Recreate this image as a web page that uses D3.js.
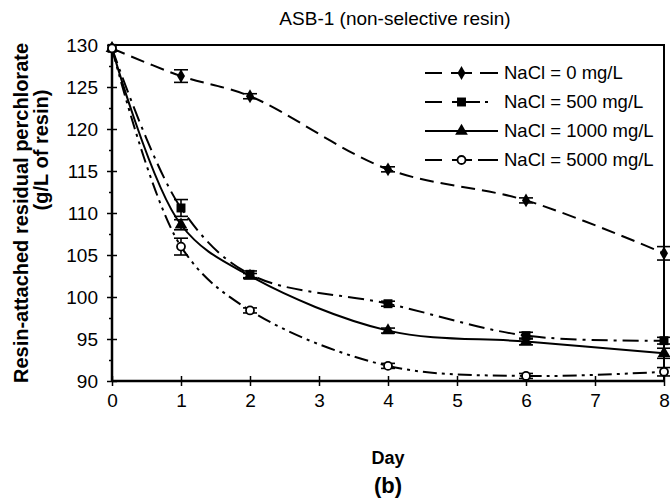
<!DOCTYPE html>
<html>
<head>
<meta charset="utf-8">
<script src="https://cdn.jsdelivr.net/npm/d3@7"></script>
<style>
  body { margin: 0; background: #fff; }
  svg { font-family: "Liberation Sans", Arial, sans-serif; }
  .axis path { display: none; }
  .axis line { stroke: #000; stroke-width: 1.5; }
  .axis text { font-size: 19px; fill: #000; }
</style>
</head>
<body>
<div id="chart"></div>
<script>
// values
const days = [0, 1, 2, 4, 6, 8];
const nacl0    = [129.6, 126.3, 123.9, 115.2, 111.5, 105.2];
const nacl500  = [129.6, 110.6, 102.7, 99.2, 95.4, 94.8];
const nacl1000 = [129.6, 108.6, 102.5, 96.0, 94.7, 93.3];
const nacl5000 = [129.6, 106.0, 98.4, 91.8, 90.6, 91.1];
// error bar half widths
const err0    = [0, 0.75, 0.3, 0.3, 0.3, 0.8];
const err500  = [0, 1.0, 0.4, 0.3, 0.4, 0.4];
const err1000 = [0, 0.6, 0.3, 0.3, 0.4, 0.6];
const err5000 = [0, 1.0, 0.3, 0.3, 0.3, 0.5];
const seriesNames = ['NaCl = 0 mg/L', 'NaCl = 500 mg/L', 'NaCl = 1000 mg/L', 'NaCl = 5000 mg/L'];
const xTicks = [0, 1, 2, 3, 4, 5, 6, 7, 8];
const yTicks = [90, 95, 100, 105, 110, 115, 120, 125, 130];
const yMinorTicks = [92.5, 97.5, 102.5, 107.5, 112.5, 117.5, 122.5, 127.5];

const values = [nacl0, nacl500, nacl1000, nacl5000];
const errors = [err0, err500, err1000, err5000];
const series = seriesNames.map((name, i) => ({
    name: name,
    points: days.map((d, j) => ({day: d, value: values[i][j], err: errors[i][j]}))
}));

// look of each series (legend samples have their own dash layout)
const styles = [
    {dash: '14,7', legendDash: '17,9,21,8,18', marker: 'diamond'},
    {dash: '16,6,3,6', legendDash: '17,10,28,5,3,10', marker: 'square'},
    {dash: null, legendDash: null, marker: 'triangle'},
    {dash: '14,5,3,5,3,5', legendDash: '17,10,20,6,20', marker: 'circle'}
];

const svg_width = 670;
const svg_height = 501;
const margin = {top: 45, right: 6, bottom: 120, left: 112};
const width = svg_width - margin.left - margin.right;
const height = svg_height - margin.top - margin.bottom;

const svg = d3.select('#chart').append('svg')
    .attr('width', svg_width).attr('height', svg_height);
const g = svg.append('g').attr('transform', `translate(${margin.left},${margin.top})`);

const xScale = d3.scaleLinear([0, 8], [0, width]);
const yScale = d3.scaleLinear([90, 130], [height, 0]);

// frame
g.append('rect').attr('x', 0).attr('y', 0).attr('width', width).attr('height', height)
    .attr('fill', 'none').attr('stroke', '#000').attr('stroke-width', 2);

// y axis: major ticks cross the axis, minor ones outside only
const yAxis = d3.axisLeft(yScale).tickValues(yTicks).tickSize(5).tickPadding(9);
const yAxisDraw = g.append('g').attr('class', 'axis').call(yAxis);
yAxisDraw.selectAll('.tick').append('line').attr('x2', 5);
g.append('g').attr('class', 'axis')
    .call(d3.axisLeft(yScale).tickValues(yMinorTicks).tickSize(3).tickFormat(''));

// x axis
const xAxis = d3.axisBottom(xScale).tickValues(xTicks).tickSize(5).tickPadding(8);
const xAxisDraw = g.append('g').attr('class', 'axis')
    .attr('transform', `translate(0,${height})`).call(xAxis);
xAxisDraw.selectAll('.tick').append('line').attr('y2', -5);
g.append('line').attr('x1', 0).attr('x2', width).attr('y1', height).attr('y2', height)
    .attr('stroke', '#000').attr('stroke-width', 2.5);
g.append('line').attr('x1', 0).attr('x2', 0).attr('y1', 0).attr('y2', height)
    .attr('stroke', '#000').attr('stroke-width', 2.5);

// markers
function drawMarker(sel, type) {
    if (type === 'circle') {
        sel.append('circle').attr('r', 4).attr('fill', '#fff')
            .attr('stroke', '#000').attr('stroke-width', 1.8);
    } else {
        const sym = {diamond: d3.symbolDiamond, square: d3.symbolSquare, triangle: d3.symbolTriangle}[type];
        const size = {diamond: 55, square: 80, triangle: 70}[type];
        sel.append('path').attr('d', d3.symbol(sym, size)).attr('fill', '#000');
    }
}

const line = d3.line()
    .x(d => xScale(d.day)).y(d => yScale(d.value))
    .curve(d3.curveCatmullRom.alpha(0.5));

const plot = g.append('g');

// error bars
series.forEach(s => {
    const eb = plot.append('g').selectAll('g').data(s.points.filter(p => p.err > 0)).join('g')
        .attr('stroke', '#000').attr('stroke-width', 1.6);
    eb.append('line')
        .attr('x1', d => xScale(d.day)).attr('x2', d => xScale(d.day))
        .attr('y1', d => yScale(d.value - d.err)).attr('y2', d => yScale(d.value + d.err));
    eb.append('line')
        .attr('x1', d => xScale(d.day) - 7).attr('x2', d => xScale(d.day) + 7)
        .attr('y1', d => yScale(d.value - d.err)).attr('y2', d => yScale(d.value - d.err));
    eb.append('line')
        .attr('x1', d => xScale(d.day) - 7).attr('x2', d => xScale(d.day) + 7)
        .attr('y1', d => yScale(d.value + d.err)).attr('y2', d => yScale(d.value + d.err));
});

// lines
series.forEach((s, i) => {
    plot.append('path').datum(s.points)
        .attr('d', line).attr('fill', 'none')
        .attr('stroke', '#000').attr('stroke-width', 2)
        .attr('stroke-dasharray', styles[i].dash);
});

// points
series.forEach((s, i) => {
    plot.append('g').selectAll('g').data(s.points).join('g')
        .attr('transform', d => `translate(${xScale(d.day)},${yScale(d.value)})`)
        .call(drawMarker, styles[i].marker);
});

// legend
const legend = svg.append('g').attr('transform', 'translate(425,73)');
const items = legend.selectAll('g').data(series).join('g')
    .attr('transform', (d, i) => `translate(0,${i * 29})`);
items.append('line').attr('x1', 0).attr('x2', 73).attr('y1', 0).attr('y2', 0)
    .attr('stroke', '#000').attr('stroke-width', 2)
    .attr('stroke-dasharray', (d, i) => styles[i].legendDash);
items.each(function(d, i) {
    d3.select(this).append('g').attr('transform', 'translate(36.5,0)').call(drawMarker, styles[i].marker);
});
items.append('text').attr('x', 79).attr('y', 0).attr('dy', '0.35em')
    .style('font-size', '18.5px').text(d => d.name);

// title and labels
svg.append('text').attr('x', 395).attr('y', 25).attr('text-anchor', 'middle')
    .style('font-size', '19px').text('ASB-1 (non-selective resin)');

svg.append('text').attr('transform', 'translate(21,213) rotate(-90)')
    .attr('text-anchor', 'middle').attr('dy', '0.35em')
    .style('font-size', '20px').style('font-weight', 'bold')
    .text('Resin-attached residual  perchlorate');
svg.append('text').attr('transform', 'translate(41,150) rotate(-90)')
    .attr('text-anchor', 'middle').attr('dy', '0.35em')
    .style('font-size', '20px').style('font-weight', 'bold')
    .text('(g/L of resin)');

svg.append('text').attr('x', margin.left + width / 2).attr('y', 464).attr('text-anchor', 'middle')
    .style('font-size', '18px').style('font-weight', 'bold').text('Day');
svg.append('text').attr('x', margin.left + width / 2).attr('y', 493).attr('text-anchor', 'middle')
    .style('font-size', '22px').style('font-weight', 'bold').text('(b)');
</script>
</body>
</html>
